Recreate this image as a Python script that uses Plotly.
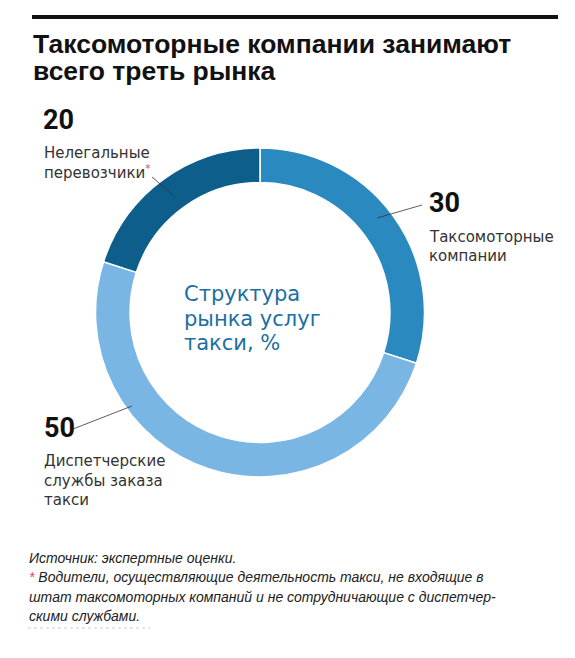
import plotly.graph_objects as go

W, H = 575, 658

# ---- data ----
segments = ["Таксомоторные компании", "Диспетчерские службы заказа такси", "Нелегальные перевозчики"]
shares = [30, 50, 20]
colors = ["#2a8abf", "#79b6e3", "#0e5e8b"]

title_lines = ["Таксомоторные компании занимают", "всего треть рынка"]
center_lines = ["Структура", "рынка услуг", "такси, %"]
footer_lines = [
    "Источник: экспертные оценки.",
    "<span style='color:#d9476a'>*</span> Водители, осуществляющие деятельность такси, не входящие в",
    "штат таксомоторных компаний и не сотрудничающие с диспетчер-",
    "скими службами.",
]

def px(x):
    return x / W

def py(y):
    return 1 - y / H

fig = go.Figure()
fig.add_trace(go.Pie(
    labels=segments,
    values=shares,
    marker=dict(colors=colors, line=dict(color="white", width=1.5)),
    hole=0.79,
    sort=False,
    direction="clockwise",
    rotation=0,
    textinfo="none",
    hoverinfo="label+value",
    showlegend=False,
    domain=dict(x=[95.5 / W, 424.5 / W], y=[181 / H, 510 / H]),
))

SANS = "Liberation Sans, Arial, sans-serif"
WIDE = "DejaVu Sans, Verdana, sans-serif"
NUM = "Roboto, Liberation Sans, sans-serif"

ann = []

def add_text(text, x, yc, size, color="#333333", family=SANS, weight="normal", style="normal"):
    ann.append(dict(
        text=text, x=px(x - 1), y=py(yc), xref="paper", yref="paper",
        xanchor="left", yanchor="middle", showarrow=False,
        font=dict(size=size, color=color, family=family, weight=weight, style=style),
    ))

# title
add_text(title_lines[0], 32, 43.6, 26.5, "#111111", weight="bold")
add_text(title_lines[1], 32, 70.6, 26.5, "#111111", weight="bold")

# value labels
add_text(str(shares[2]), 42, 120.5, 27, "#111111", NUM, "bold")
add_text("Нелегальные", 43, 152.6, 15, "#333333", WIDE)
add_text("перевозчики<sup><span style='color:#d9476a'>*</span></sup>", 43, 171.6, 15, "#333333", WIDE)

add_text(str(shares[0]), 428, 203, 27, "#111111", NUM, "bold")
add_text("Таксомоторные", 428, 236.6, 15, "#333333", WIDE)
add_text("компании", 428, 255.6, 15, "#333333", WIDE)

add_text(str(shares[1]), 43, 427.5, 27, "#111111", NUM, "bold")
add_text("Диспетчерские", 43, 460.6, 15, "#333333", WIDE)
add_text("службы заказа", 43, 480.6, 15, "#333333", WIDE)
add_text("такси", 43, 499.6, 15, "#333333", WIDE)

# center caption
for line, yc in zip(center_lines, [294, 318.6, 343]):
    add_text(line, 183, yc, 21, "#1b6fa0", WIDE)

# footer
for line, yc in zip(footer_lines, [557.6, 576.6, 596.6, 615.6]):
    add_text(line, 28, yc, 14, "#222222", style="italic")

shapes = [
    dict(type="rect", xref="paper", yref="paper", x0=px(32), x1=px(558), y0=py(19), y1=py(15),
         fillcolor="#111111", line=dict(width=0)),
]
for (x0, y0, x1, y1) in [(152, 177, 173, 195), (377, 218, 422, 205), (73, 429, 132, 406)]:
    shapes.append(dict(type="line", xref="paper", yref="paper", x0=px(x0), y0=py(y0), x1=px(x1), y1=py(y1),
                       line=dict(color="#333333", width=0.8)))
shapes.append(dict(type="line", xref="paper", yref="paper", x0=px(28), y0=py(628), x1=px(150), y1=py(628),
                   line=dict(color="#cccccc", width=1, dash="dot")))

fig.update_layout(
    width=W, height=H,
    margin=dict(l=0, r=0, t=0, b=0),
    paper_bgcolor="white", plot_bgcolor="white",
    annotations=ann, shapes=shapes,
)

fig.write_html("out.html", config={"displayModeBar": False},
               post_script="document.body.style.margin='0px';")
